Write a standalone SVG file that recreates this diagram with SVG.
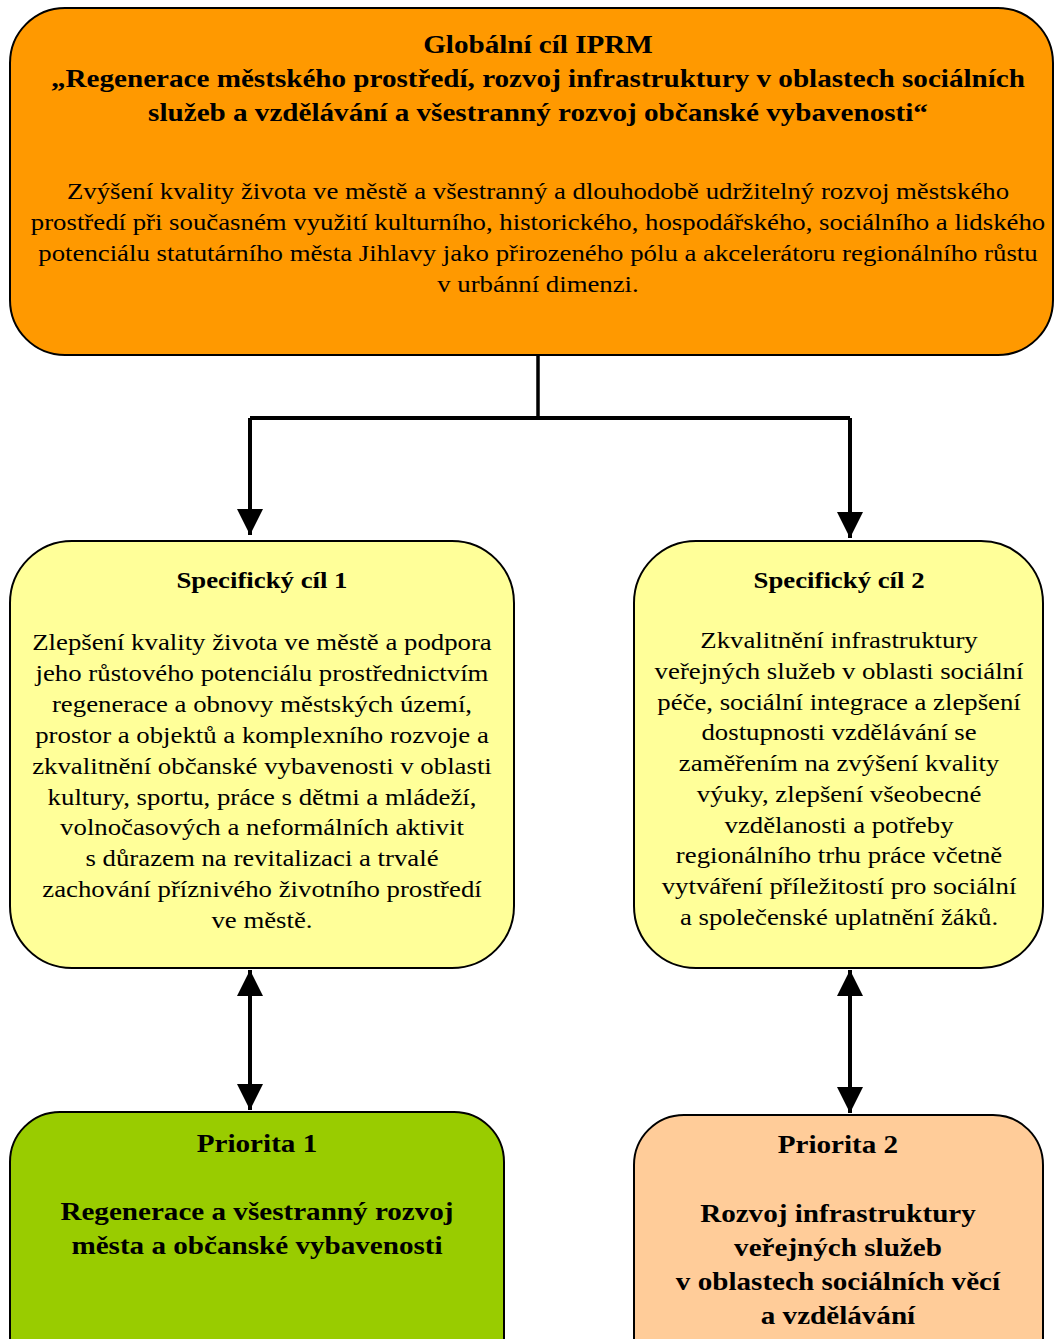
<svg xmlns="http://www.w3.org/2000/svg" width="1054" height="1339" viewBox="0 0 1054 1339">
<style>
.box{stroke:#000;stroke-width:2}
.t{font-family:"Liberation Serif","Times New Roman",serif;fill:#000;text-anchor:middle}
.b{font-weight:bold}
.con{stroke:#000;stroke-width:4;fill:none}
</style>
<defs>
<marker id="ah" viewBox="0 0 10 10" refX="10" refY="5" markerWidth="6.5" markerHeight="6.5" markerUnits="strokeWidth" orient="auto-start-reverse">
<path d="M0,0 L10,5 L0,10 z" fill="#000"/>
</marker>
</defs>
<rect width="1054" height="1339" fill="#fff"/>
<g id="global">
<rect class="box" x="10" y="8" width="1043" height="347" rx="55" fill="#FF9900"/>
<g transform="matrix(1.165,0,0,1,-88.77,0)">
<text class="t b" font-size="25"><tspan x="538" y="53">Globální cíl IPRM</tspan><tspan x="538" y="87">„Regenerace městského prostředí, rozvoj infrastruktury v oblastech sociálních</tspan><tspan x="538" y="121">služeb a vzdělávání a všestranný rozvoj občanské vybavenosti“</tspan></text>
<text class="t" font-size="23"><tspan x="538" y="199">Zvýšení kvality života ve městě a všestranný a dlouhodobě udržitelný rozvoj městského</tspan><tspan x="538" y="230">prostředí při současném využití kulturního, historického, hospodářského, sociálního a lidského</tspan><tspan x="538" y="261">potenciálu statutárního města Jihlavy jako přirozeného pólu a akcelerátoru regionálního růstu</tspan><tspan x="538" y="292">v urbánní dimenzi.</tspan></text>
</g>
</g>
<g id="spec1">
<rect class="box" x="10" y="541" width="504" height="427" rx="62" fill="#FFFF99"/>
<g transform="matrix(1.165,0,0,1,-43.23,0)">
<text class="t b" font-size="23" x="262" y="588">Specifický cíl 1</text>
<text class="t" font-size="23"><tspan x="262" y="650">Zlepšení kvality života ve městě a podpora</tspan><tspan x="262" y="681">jeho růstového potenciálu prostřednictvím</tspan><tspan x="262" y="712">regenerace a obnovy městských území,</tspan><tspan x="262" y="743">prostor a objektů a komplexního rozvoje a</tspan><tspan x="262" y="774">zkvalitnění občanské vybavenosti v oblasti</tspan><tspan x="262" y="805">kultury, sportu, práce s dětmi a mládeží,</tspan><tspan x="262" y="835">volnočasových a neformálních aktivit</tspan><tspan x="262" y="866">s důrazem na revitalizaci a trvalé</tspan><tspan x="262" y="897">zachování příznivého životního prostředí</tspan><tspan x="262" y="928">ve městě.</tspan></text>
</g>
</g>
<g id="spec2">
<rect class="box" x="634" y="541" width="409" height="427" rx="62" fill="#FFFF99"/>
<g transform="matrix(1.165,0,0,1,-138.4,0)">
<text class="t b" font-size="23" x="839" y="588">Specifický cíl 2</text>
<text class="t" font-size="23"><tspan x="839" y="648">Zkvalitnění infrastruktury</tspan><tspan x="839" y="679">veřejných služeb v oblasti sociální</tspan><tspan x="839" y="710">péče, sociální integrace a zlepšení</tspan><tspan x="839" y="740">dostupnosti vzdělávání se</tspan><tspan x="839" y="771">zaměřením na zvýšení kvality</tspan><tspan x="839" y="802">výuky, zlepšení všeobecné</tspan><tspan x="839" y="833">vzdělanosti a potřeby</tspan><tspan x="839" y="863">regionálního trhu práce včetně</tspan><tspan x="839" y="894">vytváření příležitostí pro sociální</tspan><tspan x="839" y="925">a společenské uplatnění žáků.</tspan></text>
</g>
</g>
<g id="prio1">
<rect class="box" x="10" y="1112" width="494" height="280" rx="50" fill="#99CC00"/>
<g transform="matrix(1.165,0,0,1,-42.4,0)">
<text class="t b" font-size="25" x="257" y="1152">Priorita 1</text>
<text class="t b" font-size="25"><tspan x="257" y="1220">Regenerace a všestranný rozvoj</tspan><tspan x="257" y="1254">města a občanské vybavenosti</tspan></text>
</g>
</g>
<g id="prio2">
<rect class="box" x="634" y="1115" width="409" height="280" rx="50" fill="#FFCC99"/>
<g transform="matrix(1.165,0,0,1,-138.3,0)">
<text class="t b" font-size="25" x="838" y="1153">Priorita 2</text>
<text class="t b" font-size="25"><tspan x="838" y="1222">Rozvoj infrastruktury</tspan><tspan x="838" y="1256">veřejných služeb</tspan><tspan x="838" y="1290">v oblastech sociálních věcí</tspan><tspan x="838" y="1324">a vzdělávání</tspan></text>
</g>
</g>
<g id="connectors">
<path class="con" d="M538,356 V418" style="stroke-width:3.5"/>
<path class="con" d="M250,418 H850"/>
<path class="con" d="M250,418 V535" marker-end="url(#ah)"/>
<path class="con" d="M850,418 V538" marker-end="url(#ah)"/>
<path class="con" d="M250,970 V1110" marker-start="url(#ah)" marker-end="url(#ah)"/>
<path class="con" d="M850,970 V1113" marker-start="url(#ah)" marker-end="url(#ah)"/>
</g>
</svg>
